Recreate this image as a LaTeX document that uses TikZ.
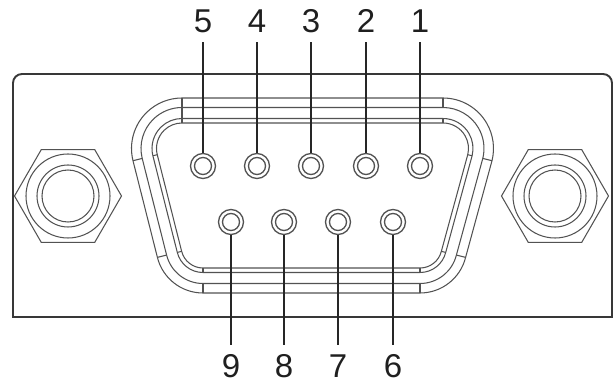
\documentclass[tikz,border=0pt]{standalone}
\usepackage{fontspec}
\setmainfont{Liberation Sans}
\usetikzlibrary{calc}
\tikzset{
  frame/.style={draw=black!78, line width=1.9pt},
  shellline/.style={draw=black!68, line width=1.05pt},
  hexline/.style={draw=black!68, line width=1.05pt},
  pinring/.style={circle, draw=black!68, line width=1.3pt, minimum size=25pt, inner sep=0pt},
  leader/.style={draw=black!85, line width=1.6pt},
  digit/.style={font=\fontsize{33}{33}\selectfont, anchor=base, inner sep=0pt, text=black!88},
}
\newcommand{\dshell}[1]{%
  \pgfmathsetmacro{\ra}{50.5-#1}\pgfmathsetmacro{\rb}{47-#1}%
  \draw[shellline] ($(TL)+(90:\ra pt)$) -- ($(TR)+(90:\ra pt)$)
    arc[start angle=90,end angle=-14,radius=\ra pt]
    -- ($(BR)+(-14:\rb pt)$) arc[start angle=-14,end angle=-90,radius=\rb pt]
    -- ($(BL)+(-90:\rb pt)$) arc[start angle=270,end angle=194,radius=\rb pt]
    -- ($(TL)+(194:\ra pt)$) arc[start angle=194,end angle=90,radius=\ra pt] -- cycle;}
\newcommand{\dtick}[4]{% center, angle, radius base, 
  \draw[shellline] ($(#1)+(#2:#3pt)$) -- ($(#1)+(#2:#4pt)$);}
\begin{document}
\begin{tikzpicture}[x=1pt,y=1pt]
\useasboundingbox (0,0) rectangle (614,-385);
% outer plate
\draw[frame] (13,-317) -- (13,-83) arc[start angle=180,end angle=90,radius=9]
  -- (603,-74) arc[start angle=90,end angle=0,radius=9] -- (612,-317) -- cycle;
% hex nuts
\foreach \cx/\nm in {68/hl,555/hr}{
  \coordinate (\nm) at (\cx,-196);
  \draw[hexline] (\nm) +(0:53.5) -- +(60:53.5) -- +(120:53.5) -- +(180:53.5) -- +(240:53.5) -- +(300:53.5) -- cycle;
  \draw[hexline] (\nm) circle[radius=42];
  \draw[hexline] (\nm) circle[radius=31];
  \draw[hexline] (\nm) circle[radius=26];
}
% D shell
\coordinate (TL) at (182,-148.5);
\coordinate (TR) at (443,-148.5);
\coordinate (BL) at (203,-246);
\coordinate (BR) at (420,-246);
\dshell{0}\dshell{9.5}\dshell{20.5}\dshell{25}
\dtick{TL}{90}{50.5}{25.5}
\dtick{TR}{90}{50.5}{41}\dtick{TR}{90}{30}{25.5}
\dtick{TR}{-14}{50.5}{41}\dtick{TR}{-14}{30}{25.5}
\dtick{TL}{194}{50.5}{41}\dtick{TL}{194}{30}{25.5}
\dtick{BL}{-90}{47}{37.5}\dtick{BL}{-90}{26.5}{22}
\dtick{BR}{-90}{47}{37.5}\dtick{BR}{-90}{26.5}{22}
\dtick{BL}{194}{47}{37.5}\dtick{BL}{194}{26.5}{22}
\dtick{BR}{-14}{47}{37.5}\dtick{BR}{-14}{26.5}{22}
% top row pins 5..1
\foreach \n/\x in {5/203,4/257,3/311,2/366,1/420}{
  \node[pinring] (p\n) at (\x,-166) {};
  \draw[shellline, line width=1.3pt] (p\n.center) circle[radius=8.5];
  \coordinate (l\n) at (\x,-42);
  \node[digit] (n\n) at (\x,-33) {\n};
  \draw[leader] (p\n.north) -- (l\n);
}
% bottom row pins 9..6
\foreach \n/\x in {9/231,8/284,7/338,6/393}{
  \node[pinring] (p\n) at (\x,-222) {};
  \draw[shellline, line width=1.3pt] (p\n.center) circle[radius=8.5];
  \coordinate (l\n) at (\x,-345);
  \node[digit] (n\n) at (\x,-377) {\n};
  \draw[leader] (p\n.south) -- (l\n);
}
\end{tikzpicture}
\end{document}
